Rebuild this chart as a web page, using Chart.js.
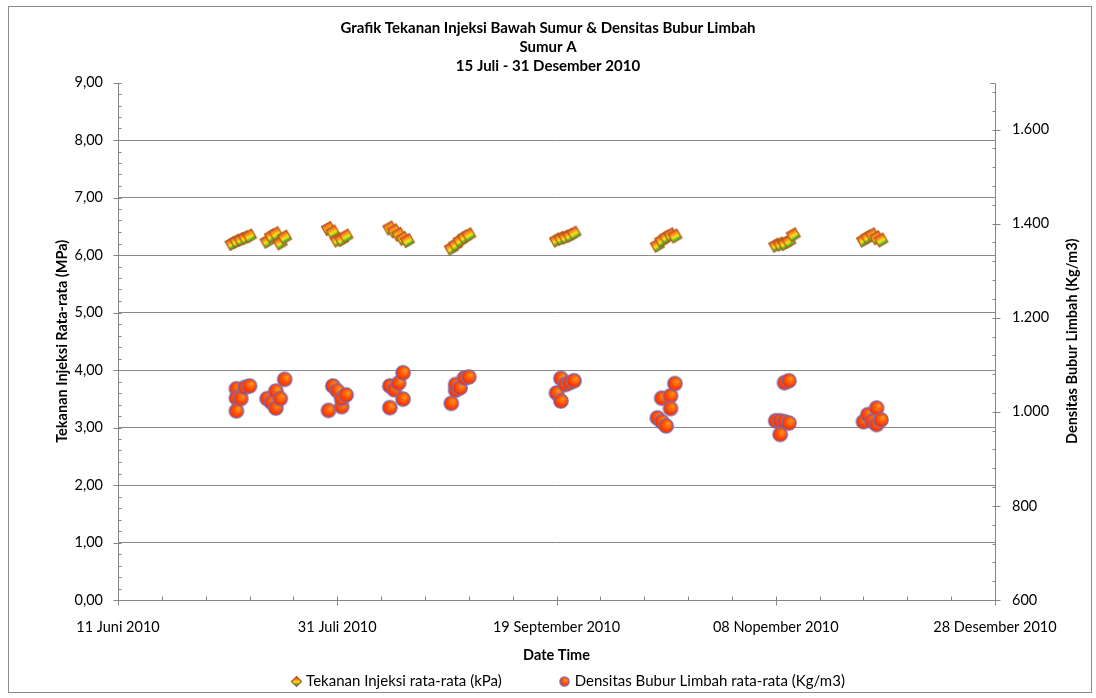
<!DOCTYPE html>
<html>
<head>
<meta charset="utf-8">
<script src="https://cdn.jsdelivr.net/npm/chart.js@4.4.1/dist/chart.umd.min.js"></script>
<style>
  html, body { margin: 0; padding: 0; background: #ffffff; }
  #wrap { width: 1096px; height: 698px; position: relative; }
</style>
</head>
<body>
<div id="wrap"><canvas id="chart" width="1096" height="698"></canvas></div>
<script>
// ---- chart text ----
const titleLines = [
  'Grafik Tekanan Injeksi Bawah Sumur & Densitas Bubur Limbah',
  'Sumur A',
  '15 Juli - 31 Desember 2010'
];
const xAxisTitle = 'Date Time';
const leftAxisTitle = 'Tekanan Injeksi Rata-rata (MPa)';
const rightAxisTitle = 'Densitas Bubur Limbah (Kg/m3)';
const pressureLabel = 'Tekanan Injeksi rata-rata (kPa)';
const densityLabel = 'Densitas Bubur Limbah rata-rata (Kg/m3)';

// ---- tick labels ----
const tickDates = ['2010-06-11', '2010-07-31', '2010-09-19', '2010-11-08', '2010-12-28'];
const pressureTicks = [0, 1, 2, 3, 4, 5, 6, 7, 8, 9];
const densityTicks = [600, 800, 1000, 1200, 1400, 1600];
const densityMax = 1700;
const monthNames = ['Januari', 'Februari', 'Maret', 'April', 'Mei', 'Juni', 'Juli',
  'Agustus', 'September', 'Oktober', 'Nopember', 'Desember'];

// ---- daily average injection pressure (MPa) ----
const pressureDates = [
  '2010-07-07', '2010-07-08', '2010-07-09', '2010-07-10', '2010-07-11',
  '2010-07-15', '2010-07-16', '2010-07-17', '2010-07-18', '2010-07-19',
  '2010-07-29', '2010-07-30', '2010-07-31', '2010-08-01', '2010-08-02',
  '2010-08-12', '2010-08-13', '2010-08-14', '2010-08-15', '2010-08-16',
  '2010-08-26', '2010-08-27', '2010-08-28', '2010-08-29', '2010-08-30',
  '2010-09-19', '2010-09-20', '2010-09-21', '2010-09-22', '2010-09-23',
  '2010-10-12', '2010-10-13', '2010-10-14', '2010-10-15', '2010-10-16',
  '2010-11-08', '2010-11-09', '2010-11-10', '2010-11-11', '2010-11-12',
  '2010-11-28', '2010-11-29', '2010-11-30', '2010-12-01', '2010-12-02'
];
const pressureValues = [
  6.20, 6.24, 6.27, 6.30, 6.33,
  6.24, 6.33, 6.37, 6.21, 6.31,
  6.46, 6.40, 6.26, 6.27, 6.33,
  6.47, 6.42, 6.36, 6.29, 6.25,
  6.12, 6.18, 6.25, 6.31, 6.35,
  6.26, 6.29, 6.31, 6.34, 6.38,
  6.17, 6.25, 6.31, 6.35, 6.33,
  6.17, 6.19, 6.20, 6.24, 6.35,
  6.26, 6.31, 6.35, 6.30, 6.26
];

// ---- daily average slurry density (kg/m3) ----
const densityDates = [
  '2010-07-08', '2010-07-08', '2010-07-08', '2010-07-09', '2010-07-10', '2010-07-11',
  '2010-07-15', '2010-07-16', '2010-07-17', '2010-07-17', '2010-07-18', '2010-07-19',
  '2010-07-29', '2010-07-30', '2010-07-31', '2010-08-01', '2010-08-01', '2010-08-02',
  '2010-08-12', '2010-08-12', '2010-08-13', '2010-08-14', '2010-08-15', '2010-08-15',
  '2010-08-26', '2010-08-27', '2010-08-27', '2010-08-28', '2010-08-29', '2010-08-30',
  '2010-09-19', '2010-09-20', '2010-09-20', '2010-09-21', '2010-09-22', '2010-09-23',
  '2010-10-12', '2010-10-13', '2010-10-13', '2010-10-14', '2010-10-15', '2010-10-15', '2010-10-16',
  '2010-11-08', '2010-11-09', '2010-11-09', '2010-11-10', '2010-11-10', '2010-11-11', '2010-11-11',
  '2010-11-28', '2010-11-29', '2010-11-30', '2010-12-01', '2010-12-01', '2010-12-02'
];
const densityValues = [
  1049, 1029, 1002, 1028, 1052, 1055,
  1028, 1020, 1044, 1008, 1028, 1069,
  1003, 1055, 1045, 1011, 1028, 1036,
  1009, 1055, 1047, 1061, 1083, 1027,
  1018, 1046, 1058, 1051, 1072, 1074,
  1040, 1023, 1071, 1058, 1062, 1066,
  987, 979, 1029, 970, 1034, 1007, 1060,
  981, 981, 952, 1062, 979, 976, 1066,
  979, 994, 980, 973, 1008, 983
];

// ---- helpers ----
const FONT = 'Lato, "Liberation Sans", sans-serif';
function dayNum(s) {
  const [y, m, d] = s.split('-').map(Number);
  return Date.UTC(y, m - 1, d) / 86400000;
}
function fmtDate(v) {
  const dt = new Date(v * 86400000);
  const dd = String(dt.getUTCDate()).padStart(2, '0');
  return dd + ' ' + monthNames[dt.getUTCMonth()] + ' ' + dt.getUTCFullYear();
}
function fmtPressure(v) { return v.toFixed(2).replace('.', ','); }
function fmtDensity(v) { return String(v).replace(/\B(?=(\d{3})+(?!\d))/g, '.'); }

// marker images: rainbow tilted square and orange ball.
// gradDeg is the screen direction the colour bands run from red towards teal.
function makeSquareMarker(side, angleDeg, gradDeg) {
  const s = Math.ceil(side * 1.5) + 2;
  const c = document.createElement('canvas');
  c.width = s; c.height = s;
  const g = c.getContext('2d');
  const cx = s / 2, cy = s / 2, h = side / 2;
  const ga = gradDeg * Math.PI / 180, gr = h * 1.05;
  const grd = g.createLinearGradient(cx - Math.cos(ga) * gr, cy - Math.sin(ga) * gr,
                                     cx + Math.cos(ga) * gr, cy + Math.sin(ga) * gr);
  grd.addColorStop(0.00, '#f23a4e');
  grd.addColorStop(0.30, '#ff9818');
  grd.addColorStop(0.58, '#ffe814');
  grd.addColorStop(0.82, '#52c02a');
  grd.addColorStop(1.00, '#1a9a98');
  g.save();
  g.translate(cx, cy);
  g.rotate(angleDeg * Math.PI / 180);
  g.beginPath();
  g.rect(-h, -h, side, side);
  g.restore();
  g.fillStyle = grd;
  g.fill();
  g.strokeStyle = '#b05e16';
  g.lineWidth = 1.3;
  g.stroke();
  return c;
}
function makeBallMarker(r) {
  const s = Math.ceil(r * 2) + 3;
  const c = document.createElement('canvas');
  c.width = s; c.height = s;
  const g = c.getContext('2d');
  const cx = s / 2, cy = s / 2;
  const grd = g.createRadialGradient(cx + r * 0.35, cy - r * 0.35, 0, cx, cy, r * 1.25);
  grd.addColorStop(0.0, '#ff9c1a');
  grd.addColorStop(0.55, '#ff4a06');
  grd.addColorStop(1.0, '#e4180a');
  g.beginPath();
  g.arc(cx, cy, r, 0, Math.PI * 2);
  g.fillStyle = grd;
  g.fill();
  g.strokeStyle = '#7e6cb0';
  g.lineWidth = 1.3;
  g.stroke();
  return c;
}
const squareImg = makeSquareMarker(10, -30, 60);
const ballImg = makeBallMarker(7.2);
const squareLegendImg = makeSquareMarker(7, 45, 90);
const ballLegendImg = makeBallMarker(4.6);

// ---- drawing plugins ----
const framePlugin = {
  id: 'frame',
  beforeDraw(chart) {
    const c = chart.ctx;
    c.save();
    c.fillStyle = '#ffffff';
    c.fillRect(0, 0, chart.width, chart.height);
    c.strokeStyle = '#8c8c8c';
    c.lineWidth = 1;
    c.strokeRect(8.5, 6.5, 1083, 686);
    c.restore();
  }
};

const axesPlugin = {
  id: 'axesLines',
  beforeDatasetsDraw(chart) {
    const c = chart.ctx;
    const { x, y, y2 } = chart.scales;
    const xl = Math.round(x.left) + 0.5, xr = Math.round(x.right) + 0.5;
    const yb = Math.round(y.bottom) + 0.5;
    c.save();
    c.strokeStyle = '#868686';
    c.lineWidth = 1;
    c.beginPath();
    // axis lines
    c.moveTo(xl, yb); c.lineTo(xr, yb);
    c.moveTo(xl, Math.round(y.getPixelForValue(9)) + 0.5); c.lineTo(xl, yb);
    c.moveTo(xr, Math.round(y2.getPixelForValue(densityMax)) + 0.5); c.lineTo(xr, yb);
    // x ticks: major crossing, minor every 10 days inside
    const d0 = dayNum(tickDates[0]), d1 = dayNum(tickDates[tickDates.length - 1]);
    for (let d = d0; d <= d1; d += 10) {
      const px = Math.round(x.getPixelForValue(d)) + 0.5;
      const major = (d - d0) % 50 === 0;
      c.moveTo(px, yb - 4); c.lineTo(px, major ? yb + 5 : yb);
    }
    // left ticks: major crossing, minor every 0.2 inside
    for (let k = 0; k <= 45; k++) {
      const v = k * 0.2;
      const py = Math.round(y.getPixelForValue(v)) + 0.5;
      const major = k % 5 === 0;
      c.moveTo(major ? xl - 5 : xl, py); c.lineTo(xl + 3, py);
    }
    // right ticks: major crossing, minor every 40 inside
    for (let v = 600; v <= densityMax; v += 40) {
      const py = Math.round(y2.getPixelForValue(v)) + 0.5;
      const major = (v - 600) % 200 === 0;
      c.moveTo(xr - 3, py); c.lineTo(major ? xr + 5 : xr, py);
    }
    const topR = Math.round(y2.getPixelForValue(densityMax)) + 0.5;
    c.moveTo(xr - 5, topR); c.lineTo(xr, topR);
    c.stroke();
    c.restore();
  }
};

const sideTextPlugin = {
  id: 'sideText',
  afterDraw(chart) {
    const c = chart.ctx;
    const area = chart.chartArea;
    c.save();
    // right axis title, reading bottom to top
    c.font = 'bold 14.5px ' + FONT;
    c.fillStyle = '#000000';
    c.textAlign = 'center';
    c.textBaseline = 'middle';
    c.translate(1072, (area.top + area.bottom) / 2);
    c.rotate(-Math.PI / 2);
    c.fillText(rightAxisTitle, 0, 0);
    c.restore();

    // legend row
    const items = [
      { img: squareLegendImg, text: pressureLabel },
      { img: ballLegendImg, text: densityLabel }
    ];
    c.save();
    c.font = '15px ' + FONT;
    c.fillStyle = '#000000';
    c.textBaseline = 'middle';
    c.textAlign = 'left';
    const markW = 10, markGap = 5, itemGap = 58;
    let total = 0;
    items.forEach((it, i) => {
      it.w = markW + markGap + c.measureText(it.text).width;
      total += it.w + (i ? itemGap : 0);
    });
    let px = 568 - total / 2;
    const py = 681;
    items.forEach(it => {
      c.drawImage(it.img, Math.round(px + markW / 2 - it.img.width / 2), Math.round(py - it.img.height / 2));
      c.fillText(it.text, px + markW + markGap, py);
      px += it.w + itemGap;
    });
    c.restore();
  }
};

// ---- chart ----
const tickFont = { family: FONT, size: 14.5 };
new Chart(document.getElementById('chart').getContext('2d'), {
  type: 'scatter',
  data: {
    datasets: [
      {
        label: pressureLabel,
        yAxisID: 'y',
        data: pressureDates.map((d, i) => ({ x: dayNum(d), y: pressureValues[i] })),
        pointStyle: squareImg,
        pointRadius: 7,
        pointHoverRadius: 7
      },
      {
        label: densityLabel,
        yAxisID: 'y2',
        data: densityDates.map((d, i) => ({ x: dayNum(d), y: densityValues[i] })),
        pointStyle: ballImg,
        pointRadius: 7,
        pointHoverRadius: 7
      }
    ]
  },
  options: {
    responsive: false,
    animation: false,
    devicePixelRatio: 1,
    layout: { padding: 0 },
    plugins: {
      legend: { display: false },
      tooltip: { enabled: false },
      title: {
        display: true,
        text: titleLines,
        color: '#000000',
        font: { family: FONT, size: 15, weight: 'bold', lineHeight: 1.28 },
        padding: { top: 18.6, bottom: 6.3 }
      }
    },
    scales: {
      x: {
        type: 'linear',
        position: 'bottom',
        min: dayNum(tickDates[0]),
        max: dayNum(tickDates[tickDates.length - 1]),
        afterBuildTicks: s => { s.ticks = tickDates.map(d => ({ value: dayNum(d) })); },
        afterFit: s => { s.height = 98; },
        grid: { display: false, drawTicks: false },
        border: { display: false },
        ticks: { callback: v => fmtDate(v), font: tickFont, color: '#000000', padding: 19, maxRotation: 0, autoSkip: false },
        title: {
          display: true, text: xAxisTitle, color: '#000000',
          font: { family: FONT, size: 14.5, weight: 'bold', lineHeight: 1.2 },
          padding: { top: 0, bottom: 34.3 }
        }
      },
      y: {
        position: 'left',
        min: 0,
        max: 9,
        afterBuildTicks: s => { s.ticks = pressureTicks.map(v => ({ value: v })); },
        afterFit: s => { s.width = 118; },
        grid: {
          drawTicks: false,
          color: ctx => (ctx.tick && ctx.tick.value > 0 && ctx.tick.value < 9) ? '#8a8a8a' : 'rgba(0,0,0,0)',
          lineWidth: 1
        },
        border: { display: false },
        ticks: { callback: v => fmtPressure(v), font: tickFont, color: '#000000', padding: 15 },
        title: {
          display: true, text: leftAxisTitle, color: '#000000',
          font: { family: FONT, size: 14.5, weight: 'bold', lineHeight: 1.2 },
          padding: { top: 53.3 }
        }
      },
      y2: {
        position: 'right',
        min: 600,
        max: densityMax,
        afterBuildTicks: s => { s.ticks = densityTicks.map(v => ({ value: v })); },
        afterFit: s => { s.width = 101; },
        grid: { display: false, drawTicks: false },
        border: { display: false },
        ticks: { callback: v => fmtDensity(v), font: tickFont, color: '#000000', padding: 17 }
      }
    }
  },
  plugins: [framePlugin, axesPlugin, sideTextPlugin]
});
</script>
</body>
</html>
